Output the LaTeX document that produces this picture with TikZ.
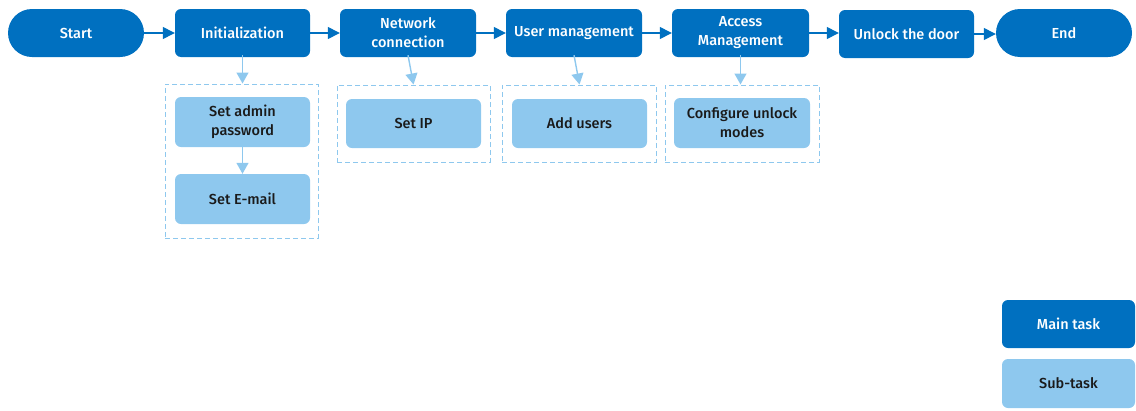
\documentclass[tikz,border=0pt]{standalone}
\usepackage{fontspec}
\setmainfont{Fira Sans Medium}
\usetikzlibrary{arrows.meta,positioning}
\definecolor{mainblue}{HTML}{0070C0}
\definecolor{subblue}{HTML}{8EC8EE}
\definecolor{textdark}{HTML}{1A1A1A}
\tikzset{
  boxfont/.style={font=\fontsize{14.5}{19}\selectfont},
  mainbox/.style={fill=mainblue,draw=none,rounded corners=6pt,text=white,align=center,boxfont,inner sep=0pt},
  termbox/.style={fill=mainblue,draw=none,rounded corners=24pt,text=white,align=center,boxfont,inner sep=0pt},
  subbox/.style={fill=subblue,draw=none,rounded corners=6pt,text=textdark,align=center,boxfont,inner sep=0pt},
  groupbox/.style={draw=subblue,dashed,dash pattern=on 5pt off 3pt,line width=1pt,inner sep=0pt},
  mainarrow/.style={draw=mainblue,line width=1.4pt,-{Triangle[length=12pt,width=12pt]}},
  subarrow/.style={draw=subblue,line width=1.4pt,-{Triangle[length=11pt,width=12pt]}},
}
\begin{document}
\begin{tikzpicture}[x=1pt,y=-1pt]
\useasboundingbox (0,0) rectangle (1136,410);
% main row
\node[termbox,minimum width=136pt,minimum height=48pt] (start) at (76,33) {Start};
\node[mainbox,minimum width=135pt,minimum height=48pt] (init) at (242.5,33) {Initialization};
\node[mainbox,minimum width=136pt,minimum height=48pt] (net) at (408,33) {Network\\connection};
\node[mainbox,minimum width=136pt,minimum height=48pt] (user) at (574,33) {User management};
\node[mainbox,minimum width=137pt,minimum height=48pt] (acc) at (740.5,33) {Access\\Management};
\node[mainbox,minimum width=135pt,minimum height=48pt] (unlock) at (906.5,34) {Unlock the door};
\node[termbox,minimum width=136pt,minimum height=48pt] (end) at (1064,33) {End};
% groups
\node[groupbox,minimum width=153pt,minimum height=154pt] (g1) at (241.5,161) {};
\node[groupbox,minimum width=153pt,minimum height=77pt] (g2) at (413.5,123.5) {};
\node[groupbox,minimum width=154pt,minimum height=77pt] (g3) at (579,123.5) {};
\node[groupbox,minimum width=154pt,minimum height=77pt] (g4) at (742,123.5) {};
% sub tasks
\node[subbox,minimum width=135pt,minimum height=50pt] (admin) at (242.5,122) {Set admin\\password};
\node[subbox,minimum width=135pt,minimum height=50pt] (email) at (242.5,199) {Set E-mail};
\node[subbox,minimum width=135pt,minimum height=49pt] (ip) at (413.5,123.5) {Set IP};
\node[subbox,minimum width=135pt,minimum height=49pt] (add) at (579.5,123.5) {Add users};
\node[subbox,minimum width=136pt,minimum height=50pt] (conf) at (742,123) {Configure unlock\\modes};
% legend
\node[mainbox,minimum width=133pt,minimum height=48pt] (legmain) at (1068.5,324) {Main task};
\node[subbox,minimum width=133pt,minimum height=49pt] (legsub) at (1068.5,383.5) {Sub-task};
% arrows
\draw[mainarrow] (start) -- (init);
\draw[mainarrow] (init) -- (net);
\draw[mainarrow] (net) -- (user);
\draw[mainarrow] (user) -- (acc);
\draw[mainarrow] (acc.east) -- (unlock.west|-acc.east);
\draw[mainarrow] (unlock.east) -- (end.west|-unlock.east);
\draw[subarrow] ([yshift=2pt]init.south) -- (init.south|-g1.north);
\draw[subarrow] ([yshift=2pt]net.south) -- (ip.north|-g2.north);
\draw[subarrow] ([yshift=2pt]user.south) -- (add.north|-g3.north);
\draw[subarrow] ([yshift=2pt]acc.south) -- (acc.south|-g4.north);
\draw[subarrow] (admin) -- (email);
\end{tikzpicture}
\end{document}
